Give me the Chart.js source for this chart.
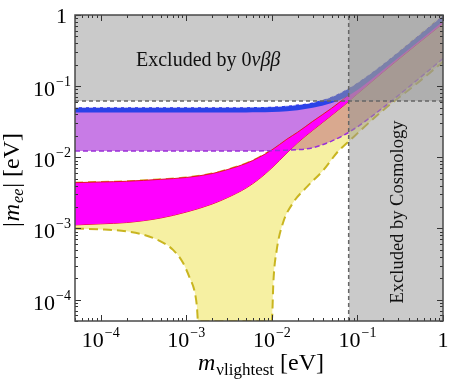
<!DOCTYPE html>
<html>
<head>
<meta charset="utf-8">
<script src="https://cdn.jsdelivr.net/npm/chart.js@4.4.0/dist/chart.umd.min.js"></script>
<style>
  html, body { margin: 0; padding: 0; background: #fff; }
  canvas { display: block; }
</style>
</head>
<body>
<canvas id="chart" width="463" height="382"></canvas>
<script>
// lightest neutrino mass grid (eV)
const mLight = [5e-5, 1e-4, 2e-4, 5e-4, 1e-3, 2e-3, 3e-3, 5e-3, 7e-3, 1e-2, 1.5e-2, 2e-2, 3e-2, 5e-2, 7e-2, 0.1, 0.2, 0.5, 1];

// normal ordering: upper edge (yellow + magenta) and lower edge of magenta band
const noUpper = [0.0044, 0.0045, 0.0046, 0.0049, 0.0052, 0.0059, 0.0067, 0.0082, 0.0099, 0.0127, 0.018, 0.0225, 0.032, 0.049, 0.067, 0.096, 0.194, 0.488, 0.975];
const noLowerBand = [0.00112, 0.00116, 0.00121, 0.0014, 0.0017, 0.0022, 0.0027, 0.0037, 0.0049, 0.0071, 0.0115, 0.016, 0.024, 0.039, 0.054, 0.078, 0.158, 0.39, 0.76];

// inverted ordering: upper edge, lower edge of blue band, lower edge (purple dashed)
const ioUpper = [0.0505, 0.0505, 0.0505, 0.0505, 0.0505, 0.0505, 0.0506, 0.0507, 0.0509, 0.0515, 0.053, 0.055, 0.059, 0.071, 0.086, 0.112, 0.205, 0.5, 0.985];
const ioBlueLower = [0.0425, 0.0425, 0.0425, 0.0425, 0.0425, 0.0425, 0.0426, 0.0427, 0.0428, 0.0432, 0.0444, 0.046, 0.0495, 0.058, 0.068, 0.088, 0.17, 0.41, 0.82];
const ioLower = [0.0123, 0.0123, 0.0123, 0.0123, 0.0123, 0.0123, 0.0123, 0.0123, 0.0123, 0.0124, 0.0126, 0.0128, 0.0136, 0.0169, 0.0206, 0.0268, 0.05, 0.122, 0.244];

// normal ordering minimum (yellow dashed), own grid
const mLightNoMin = [5e-5, 1e-4, 2e-4, 3e-4, 5e-4, 7e-4, 9e-4, 1.1e-3, 1.25e-3, 1.33e-3, 1.37e-3, 1e-2, 1.01e-2, 1.04e-2, 1.14e-2, 1.35e-2, 1.77e-2, 2.6e-2, 4e-2, 5.9e-2, 7.6e-2, 0.2, 0.5, 1];
const noMin = [0.001, 0.00097, 0.00091, 0.00083, 0.00066, 0.0005, 0.00034, 0.0002, 0.00013, 0.00008, 0.00005, 0.00005, 0.00006, 0.00017, 0.0005, 0.0012, 0.0023, 0.0039, 0.0066, 0.012, 0.016, 0.046, 0.11, 0.22];

// exclusion limits (eV)
const zeroNuLimit = 0.062;
const cosmoLimit = 0.079;

// axes
const axisMin = 5e-5;
const axisMax = 1;
const decades = [1e-4, 1e-3, 1e-2, 1e-1, 1];
const decadeExps = ['\u22124', '\u22123', '\u22122', '\u22121', ''];

const SERIF = '"Liberation Serif", "DejaVu Serif", serif';

function pts(xs, ys) {
    return xs.map((x, i) => ({x: x, y: ys[i]}));
}

const curve = {cubicInterpolationMode: 'monotone', pointRadius: 0};

const datasets = [
    // 0: 0nbb exclusion
    {data: [{x: axisMin, y: zeroNuLimit}, {x: axisMax, y: zeroNuLimit}], fill: 'end',
     backgroundColor: 'rgba(150,150,150,0.5)', borderColor: '#666', borderWidth: 1.5, borderDash: [4, 3], pointRadius: 0, order: 1},
    // 1: cosmology exclusion
    {data: [{x: cosmoLimit, y: axisMax}, {x: axisMax, y: axisMax}], fill: 'start',
     backgroundColor: 'rgba(150,150,150,0.5)', borderWidth: 0, pointRadius: 0, order: 1},
    // 2: cosmology edge
    {data: [{x: cosmoLimit, y: axisMin}, {x: cosmoLimit, y: axisMax}], fill: false,
     borderColor: '#666', borderWidth: 1.5, borderDash: [4, 3], pointRadius: 0, order: 0},
    // 3: IO blue band
    Object.assign({data: pts(mLight, ioUpper), fill: 4, backgroundColor: '#2b42e8', borderColor: 'rgba(255,255,255,0.85)', borderWidth: 1, borderDash: [4, 3], order: 5}, curve),
    // 4
    Object.assign({data: pts(mLight, ioBlueLower), fill: false, borderWidth: 0, order: 5}, curve),
    // 5: NO magenta band
    Object.assign({data: pts(mLight, noUpper), fill: 6, backgroundColor: '#ff00ff', borderColor: '#e8102a', borderWidth: 1, order: 6}, curve),
    // 6
    Object.assign({data: pts(mLight, noLowerBand), fill: false, borderColor: '#e8102a', borderWidth: 1, order: 6}, curve),
    // 7: overlap NO / IO
    Object.assign({data: pts(mLight, noUpper), fill: {target: 9, above: '#d9a98f', below: 'rgba(0,0,0,0)'}, borderWidth: 0, order: 7}, curve),
    // 8: IO purple band
    Object.assign({data: pts(mLight, ioUpper), fill: 9, backgroundColor: '#c87be6', borderWidth: 0, order: 8}, curve),
    // 9: IO lower edge
    Object.assign({data: pts(mLight, ioLower), fill: false, borderColor: '#9a2fd8', borderWidth: 1.5, borderDash: [5, 3], order: 4}, curve),
    // 10: NO full yellow region
    Object.assign({data: pts(mLight, noUpper), fill: 11, backgroundColor: '#f6f0a2', borderColor: '#c9b520', borderWidth: 2, borderDash: [8, 5], order: 9}, curve),
    // 11
    Object.assign({data: pts(mLightNoMin, noMin), fill: false, borderColor: '#c9b520', borderWidth: 2, borderDash: [9, 5], order: 3}, curve)
];

function drawParts(ctx, parts, x0, y0, align) {
    let total = 0;
    parts.forEach(p => { ctx.font = p.font; p.w = ctx.measureText(p.t).width; total += p.w + (p.gap || 0); });
    let x = align === 'center' ? x0 - total / 2 : (align === 'right' ? x0 - total : x0);
    ctx.textAlign = 'left';
    ctx.textBaseline = 'alphabetic';
    parts.forEach(p => {
        ctx.font = p.font;
        ctx.fillText(p.t, x, y0 + (p.dy || 0));
        x += p.w + (p.gap || 0);
    });
}

function powParts(exp) {
    if (exp === '') return [{t: '1', font: '22px ' + SERIF}];
    return [{t: '10', font: '22px ' + SERIF, gap: 1}, {t: exp, font: '14px ' + SERIF, dy: -10}];
}

const decor = {
    id: 'decor',
    afterDraw(chart) {
        const ctx = chart.ctx;
        const a = chart.chartArea;
        const xs = chart.scales.x, ys = chart.scales.y;
        ctx.save();

        // inner ticks on all four sides
        ctx.strokeStyle = '#333';
        ctx.lineWidth = 1;
        ctx.beginPath();
        for (let e = -5; e <= 0; e++) {
            for (let k = 1; k <= 9; k++) {
                const v = k * Math.pow(10, e);
                if (v < axisMin * 0.999 || v > axisMax * 1.001) continue;
                const len = k === 1 ? 6 : 3;
                const px = Math.round(xs.getPixelForValue(v)) + 0.5;
                ctx.moveTo(px, a.bottom); ctx.lineTo(px, a.bottom - len);
                ctx.moveTo(px, a.top); ctx.lineTo(px, a.top + len);
                const py = Math.round(ys.getPixelForValue(v)) + 0.5;
                ctx.moveTo(a.left, py); ctx.lineTo(a.left + len, py);
                ctx.moveTo(a.right, py); ctx.lineTo(a.right - len, py);
            }
        }
        ctx.stroke();

        // frame
        ctx.strokeStyle = '#4a4a4a';
        ctx.lineWidth = 1.5;
        ctx.strokeRect(a.left, a.top, a.right - a.left, a.bottom - a.top);

        // tick labels
        ctx.fillStyle = '#000';
        decades.forEach((v, i) => {
            const px = xs.getPixelForValue(v);
            drawParts(ctx, powParts(decadeExps[i]), px, 346.5, 'center');
            const py = ys.getPixelForValue(v);
            if (decadeExps[i] === '') drawParts(ctx, powParts(''), 67, py + 7.5, 'right');
            else drawParts(ctx, powParts(decadeExps[i]), 71, py + 10, 'right');
        });

        // region labels
        ctx.fillStyle = '#111';
        drawParts(ctx, [
            {t: 'Excluded by 0', font: '20px ' + SERIF},
            {t: '\u03bd\u03b2\u03b2', font: 'italic 20px ' + SERIF}
        ], xs.getPixelForValue(1.8e-3), ys.getPixelForValue(0.19), 'center');

        ctx.save();
        ctx.translate(xs.getPixelForValue(0.34), ys.getPixelForValue(1.7e-3));
        ctx.rotate(-Math.PI / 2);
        drawParts(ctx, [{t: 'Excluded by Cosmology', font: '18.5px ' + SERIF}], 0, 0, 'center');
        ctx.restore();

        // axis titles
        ctx.fillStyle = '#000';
        drawParts(ctx, [
            {t: 'm', font: 'italic 24px ' + SERIF, gap: 1},
            {t: '\u03bdlightest', font: '17px ' + SERIF, dy: 5, gap: 6},
            {t: '[eV]', font: '24px ' + SERIF}
        ], (a.left + a.right) / 2 + 2, 370, 'center');

        ctx.save();
        ctx.translate(19, 180);
        ctx.rotate(-Math.PI / 2);
        drawParts(ctx, [
            {t: '|', font: '24px ' + SERIF, gap: 1},
            {t: 'm', font: 'italic 24px ' + SERIF, gap: 1},
            {t: 'ee', font: 'italic 16px ' + SERIF, dy: 4, gap: 1},
            {t: '|', font: '24px ' + SERIF, gap: 6},
            {t: '[eV]', font: '24px ' + SERIF}
        ], 0, 0, 'center');
        ctx.restore();

        ctx.restore();
    }
};

new Chart(document.getElementById('chart').getContext('2d'), {
    type: 'line',
    data: {datasets: datasets},
    options: {
        responsive: false,
        animation: false,
        devicePixelRatio: 1,
        layout: {padding: {left: 75, top: 15, right: 20, bottom: 61}},
        scales: {
            x: {type: 'logarithmic', min: axisMin, max: axisMax, display: false},
            y: {type: 'logarithmic', min: axisMin, max: axisMax, display: false}
        },
        plugins: {legend: {display: false}, tooltip: {enabled: false}},
        elements: {point: {radius: 0}}
    },
    plugins: [decor]
});
</script>
</body>
</html>
